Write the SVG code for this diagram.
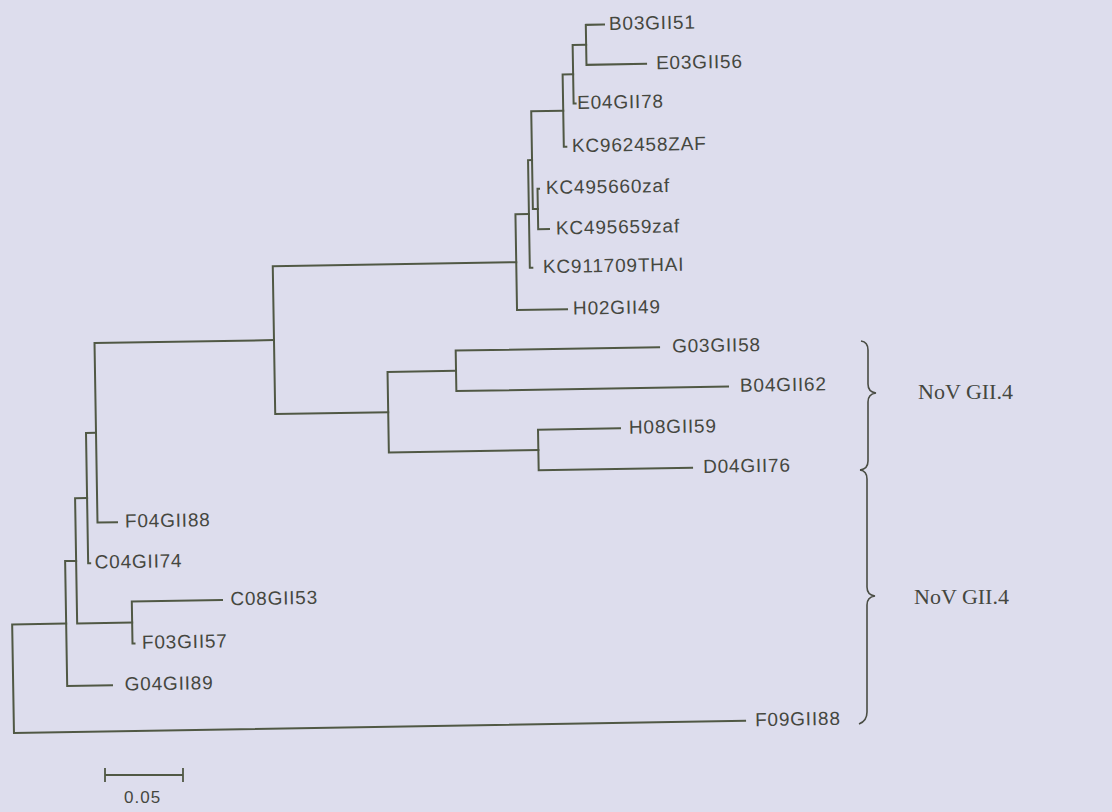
<svg xmlns="http://www.w3.org/2000/svg" width="1112" height="812" viewBox="0 0 1112 812">
<style>
.br{fill:none;stroke:#505844;stroke-width:2;stroke-linecap:square}
.lb{font-family:"Liberation Sans",Arial,sans-serif;font-size:19px;letter-spacing:0.8px;fill:#45473f}
.cl{font-family:"Liberation Serif","Times New Roman",serif;font-size:22px;fill:#45473f}
.brace{fill:none;stroke:#4a4d44;stroke-width:1.6}
</style>
<rect width="1112" height="812" fill="#dddded"/>
<g transform="rotate(-0.95 400 400)">
<g id="connectors" class="br">
<path d="M592,28V68M592,28H610.2M592,68H651.6"/>
<path d="M578.5,48V106.5M578.5,48H592M578.5,106.5H580.5"/>
<path d="M568,77.25V149.5M568,77.25H578.5M568,149.5H570.5"/>
<path d="M541,191V231.5M541,191H542.5M541,231.5H551.8"/>
<path d="M536,113.4V211.25M536,113.4H568M536,211.25H541"/>
<path d="M532,162.3V270M532,162.3H536M532,270H534.5"/>
<path d="M518.5,216.2V312M518.5,216.2H532M518.5,312H568.5"/>
<path d="M456.5,351.5V392M456.5,351.5H659.9M456.5,392H728.2"/>
<path d="M537.5,432V472.5M537.5,432H619.5M537.5,472.5H690.9"/>
<path d="M388,371.75V452.25M388,371.75H456.5M388,452.25H537.5"/>
<path d="M275,264.1V412M275,264.1H518.5M275,412H388"/>
<path d="M95.5,338V517.5M95.5,338H275M95.5,517.5H115"/>
<path d="M85.5,427.75V558M85.5,427.75H95.5M85.5,558H87.5"/>
<path d="M128.5,597V639M128.5,597H218.7M128.5,639H130.5"/>
<path d="M73.5,492.9V618M73.5,492.9H85.5M73.5,618H128.5"/>
<path d="M62.5,555.5V680.5M62.5,555.5H73.5M62.5,680.5H107.3"/>
<path d="M8.5,618V726.5M8.5,618H62.5M8.5,726.5H739.7"/>
</g>
<g id="leaf-B03GII51"><text class="lb" x="615.2" y="33.5">B03GII51</text></g>
<g id="leaf-E03GII56"><text class="lb" x="661.6" y="73.5">E03GII56</text></g>
<g id="leaf-E04GII78"><text class="lb" x="582" y="112">E04GII78</text></g>
<g id="leaf-KC962458ZAF"><text class="lb" x="576.2" y="155">KC962458ZAF</text></g>
<g id="leaf-KC495660zaf"><text class="lb" x="549.5" y="196.5">KC495660zaf</text></g>
<g id="leaf-KC495659zaf"><text class="lb" x="558.8" y="237">KC495659zaf</text></g>
<g id="leaf-KC911709THAI"><text class="lb" x="545.2" y="275.5">KC911709THAI</text></g>
<g id="leaf-H02GII49"><text class="lb" x="574.5" y="317.5">H02GII49</text></g>
<g id="leaf-G03GII58"><text class="lb" x="672.9" y="357">G03GII58</text></g>
<g id="leaf-B04GII62"><text class="lb" x="740.2" y="397.5">B04GII62</text></g>
<g id="leaf-H08GII59"><text class="lb" x="628.5" y="437.5">H08GII59</text></g>
<g id="leaf-D04GII76"><text class="lb" x="701.9" y="478">D04GII76</text></g>
<g id="leaf-F04GII88"><text class="lb" x="123" y="523">F04GII88</text></g>
<g id="leaf-C04GII74"><text class="lb" x="92" y="563.5">C04GII74</text></g>
<g id="leaf-C08GII53"><text class="lb" x="227" y="602.5">C08GII53</text></g>
<g id="leaf-F03GII57"><text class="lb" x="138" y="644.5">F03GII57</text></g>
<g id="leaf-G04GII89"><text class="lb" x="120" y="686">G04GII89</text></g>
<g id="leaf-F09GII88"><text class="lb" x="749.7" y="732">F09GII88</text></g>
</g>
<g id="scale-bar">
<path class="br" d="M105,775H183M105,769V781M183,769V781" style="stroke-width:1.8"/>
<text class="lb" x="124" y="803" style="font-size:17px;letter-spacing:1px">0.05</text>
</g>
<g id="clade-upper">
<path class="brace" d="M861,341Q868,342 868,350V384Q868,392 876,393Q868,394 868,402V461Q868,469 860,470"/>
<text class="cl" x="918" y="399">NoV GII.4</text>
</g>
<g id="clade-lower">
<path class="brace" d="M860,470Q867,471 867,479V587Q867,595 875,596Q867,597 867,605V712Q867,721 859,724"/>
<text class="cl" x="914" y="604">NoV GII.4</text>
</g>
</svg>
